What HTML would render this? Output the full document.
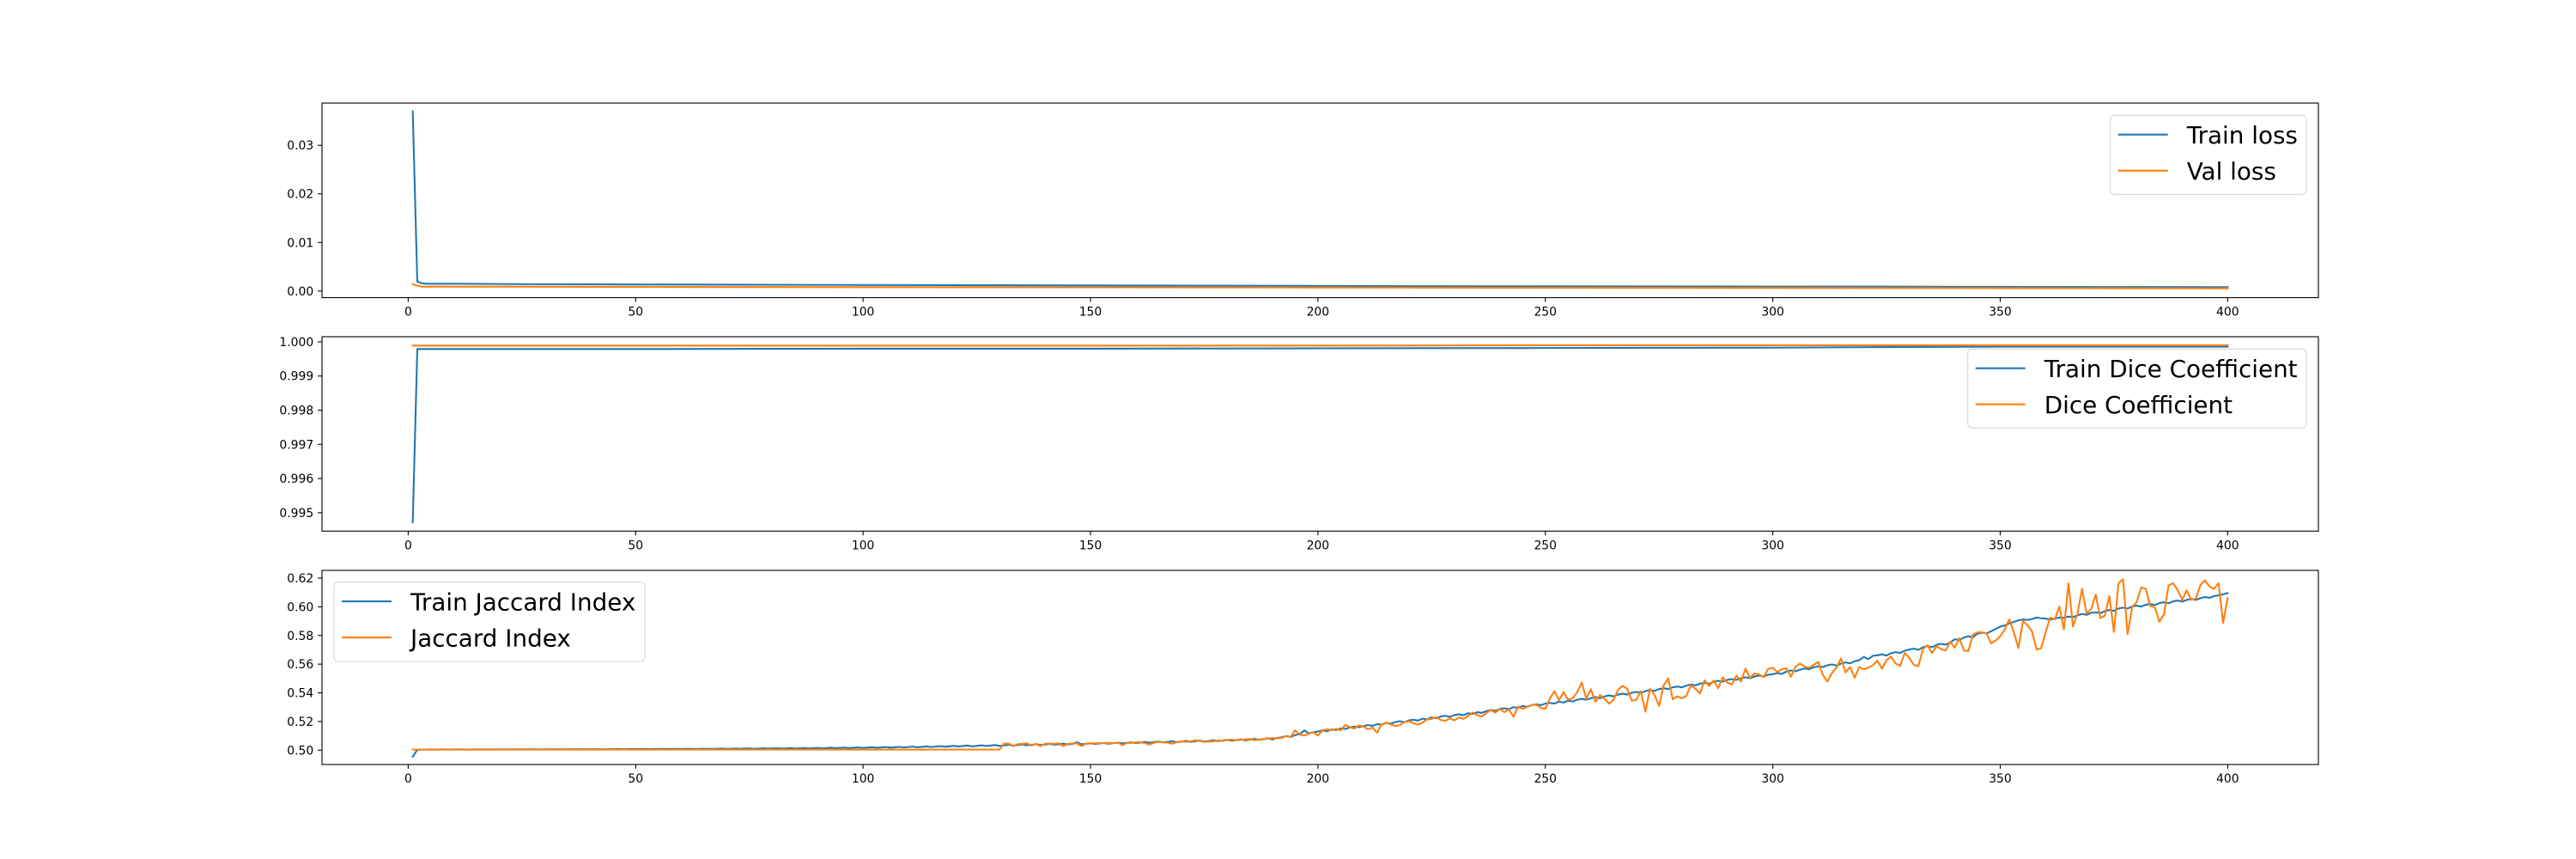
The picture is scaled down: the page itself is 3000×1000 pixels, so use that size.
<!DOCTYPE html>
<html><head><meta charset="utf-8">
<style>
html,body{margin:0;padding:0;background:#fff;}
svg{display:block;}
text{font-family:"DejaVu Sans","Liberation Sans",sans-serif;}
</style></head>
<body>
<svg id="fig" xmlns="http://www.w3.org/2000/svg" width="3000" height="1000" viewBox="0 0 3000 1000">
<rect x="0" y="0" width="3000" height="1000" fill="#fff"/>
</svg>
<script>
// ---------- data ----------
const xTicks = [0,50,100,150,200,250,300,350,400];
const lossEpochs = [1,2,3,4,5,10,20,30,40,50,75,100,125,150,175,200,225,250,275,300,325,350,375,400];
const trainLoss = [0.0370,0.0019,0.0016,0.0015,0.0015,0.0015,0.00145,0.0014,0.00138,0.00135,0.0013,0.00125,0.0012,0.00115,0.0011,0.00105,0.001,0.00098,0.00095,0.00092,0.0009,0.00086,0.00083,0.0008];
const valLoss = [0.0014,0.0011,0.0009,0.0009,0.0009,0.0009,0.0009,0.00088,0.00086,0.00085,0.00082,0.0008,0.00078,0.00076,0.00074,0.00072,0.0007,0.00068,0.00066,0.00064,0.00062,0.0006,0.00058,0.00055];
const lossTicks = [0.00,0.01,0.02,0.03];
const lossTickLabels = ["0.00","0.01","0.02","0.03"];

const diceEpochs = [1,2,3,5,10,50,100,150,200,250,300,330,350,400];
const trainDice = [0.99472,0.99979,0.99979,0.99979,0.99979,0.99979,0.9998,0.9998,0.99981,0.99982,0.99983,0.99985,0.99986,0.99986];
const valDice = [0.99989,0.99989,0.99989,0.99989,0.99989,0.99989,0.99989,0.99989,0.99989,0.9999,0.9999,0.9999,0.9999,0.9999];
const diceTicks = [0.995,0.996,0.997,0.998,0.999,1.000];
const diceTickLabels = ["0.995","0.996","0.997","0.998","0.999","1.000"];

const trainJaccard = [
.4955,.5003,.5004,.5004,.5005,.5004,.5005,.5005,.5004,.5005,
.5005,.5005,.5004,.5005,.5005,.5006,.5005,.5005,.5006,.5005,
.5006,.5005,.5006,.5006,.5005,.5006,.5006,.5006,.5005,.5006,
.5006,.5006,.5007,.5006,.5006,.5007,.5006,.5007,.5007,.5006,
.5007,.5007,.5006,.5007,.5007,.5008,.5007,.5007,.5008,.5007,
.5008,.5008,.5007,.5008,.5008,.5009,.5008,.5008,.5009,.5008,
.5009,.5009,.5008,.5009,.501,.5009,.5009,.501,.5011,.5009,
.501,.5011,.501,.5011,.5012,.501,.5011,.5013,.5011,.5012,
.5013,.5011,.5012,.5014,.5012,.5013,.5015,.5012,.5014,.5016,
.5013,.5015,.5017,.5014,.5016,.5018,.5015,.5017,.5019,.5016,
.5018,.502,.5017,.5019,.5022,.5018,.502,.5023,.5019,.5022,
.5025,.502,.5023,.5026,.5022,.5025,.5028,.5024,.5027,.503,
.5026,.5029,.5032,.5027,.503,.5034,.5029,.5032,.5036,.503,
.5033,.5038,.5032,.5035,.504,.5034,.5037,.5042,.5036,.5039,
.5044,.5038,.5041,.5046,.504,.5043,.5055,.5041,.5045,.5048,
.5043,.5047,.505,.5045,.5049,.5052,.5047,.5051,.5054,.5049,
.5053,.5057,.5052,.5056,.506,.5054,.5058,.5062,.5056,.506,
.5065,.5058,.5062,.5067,.506,.5064,.5069,.5063,.5067,.5072,
.5066,.507,.5075,.5069,.5073,.508,.5072,.5076,.5083,.5075,
.5085,.509,.5098,.5092,.5105,.5112,.5138,.5118,.5125,.513,
.5138,.5132,.5145,.514,.5152,.5148,.5158,.5165,.516,.5168,
.5175,.517,.5182,.5178,.519,.5185,.5196,.5202,.5195,.5208,
.5212,.5206,.522,.5215,.5228,.5222,.5235,.524,.5232,.5245,
.525,.5244,.5258,.5252,.5265,.526,.5272,.528,.5274,.5288,
.5292,.5286,.53,.5295,.5308,.5302,.5315,.532,.5314,.5325,
.533,.5325,.5338,.5332,.5345,.534,.5352,.5358,.5352,.5362,
.537,.5362,.5375,.5382,.5376,.5388,.5394,.5388,.54,.5406,
.54,.5412,.542,.5414,.5426,.5432,.5426,.5438,.5444,.5438,
.545,.5458,.5452,.5464,.547,.5464,.5476,.5484,.5478,.549,
.5496,.549,.5502,.5508,.5502,.5514,.552,.5514,.5526,.553,
.5538,.5532,.5548,.5556,.555,.5562,.557,.5564,.5578,.5585,
.558,.5592,.5598,.559,.5604,.5612,.5606,.562,.5628,.565,
.5635,.5658,.5662,.5668,.566,.5676,.5684,.5678,.5694,.5702,
.5708,.57,.5718,.5726,.5718,.5734,.5742,.5736,.575,.5774,
.5768,.5785,.5795,.5788,.5812,.582,.5814,.583,.5845,.5862,
.587,.5884,.5895,.5905,.5912,.5908,.5915,.5925,.592,.5918,
.591,.5918,.5925,.5922,.5932,.5928,.594,.595,.5944,.5958,
.5962,.5956,.597,.5978,.5972,.5988,.5994,.5988,.6002,.6008,
.6002,.6014,.602,.6012,.6026,.6032,.6025,.6038,.6044,.6036,
.6048,.6055,.6048,.606,.6068,.6062,.6075,.608,.6088,.6096];

const valJaccard = [
.5004,.5004,.5004,.5004,.5004,.5004,.5004,.5004,.5004,.5004,
.5004,.5004,.5004,.5004,.5004,.5004,.5004,.5004,.5004,.5004,
.5004,.5004,.5004,.5004,.5004,.5004,.5004,.5004,.5004,.5004,
.5004,.5004,.5004,.5004,.5004,.5004,.5004,.5004,.5004,.5004,
.5004,.5004,.5004,.5004,.5004,.5004,.5004,.5004,.5004,.5004,
.5004,.5004,.5004,.5004,.5004,.5004,.5004,.5004,.5004,.5004,
.5004,.5004,.5004,.5004,.5004,.5004,.5004,.5004,.5004,.5004,
.5004,.5004,.5004,.5004,.5004,.5004,.5004,.5004,.5004,.5004,
.5004,.5004,.5004,.5004,.5004,.5004,.5004,.5004,.5004,.5004,
.5004,.5004,.5004,.5004,.5004,.5004,.5004,.5004,.5004,.5004,
.5004,.5004,.5004,.5004,.5004,.5004,.5004,.5004,.5004,.5004,
.5004,.5004,.5004,.5004,.5004,.5004,.5004,.5004,.5004,.5004,
.5004,.5004,.5004,.5004,.5004,.5004,.5004,.5004,.5004,.5004,
.5045,.5046,.5028,.5042,.5044,.5048,.5032,.5045,.5028,.5045,
.5046,.5044,.5048,.5028,.5045,.5046,.5048,.5028,.5045,.5047,
.5048,.5049,.505,.505,.5049,.5052,.5035,.505,.5051,.5054,
.5056,.5048,.504,.5052,.5058,.5055,.5052,.5045,.5056,.5062,
.5058,.5062,.5068,.5064,.5058,.506,.5062,.5068,.5064,.507,
.5074,.5068,.5072,.5075,.5078,.507,.5074,.5078,.508,.5085,
.5082,.5086,.5098,.5092,.5138,.5108,.5102,.5115,.5125,.5102,
.5138,.5145,.514,.5148,.5138,.5175,.5162,.515,.5172,.5165,
.5145,.5158,.5122,.518,.5192,.518,.5168,.5175,.5196,.5202,
.5188,.5178,.5192,.5215,.5218,.523,.521,.5205,.5222,.5208,
.5228,.5218,.5238,.5262,.5245,.5235,.5258,.528,.5262,.5288,
.5265,.5285,.5232,.5305,.5288,.5302,.5315,.5318,.5295,.5288,
.5362,.5412,.5348,.5405,.5352,.5362,.5405,.5472,.5358,.5425,
.5338,.5385,.5358,.5325,.5352,.5422,.5448,.5428,.5345,.5352,
.5412,.5268,.5428,.5385,.5308,.5452,.5502,.5355,.5375,.5362,
.5378,.5452,.5428,.5395,.5488,.5448,.5485,.5432,.5508,.5472,
.5458,.552,.5478,.5568,.5505,.5535,.5528,.5508,.5568,.5575,
.5545,.5565,.5572,.5512,.5582,.5605,.5582,.5575,.5595,.5615,
.5526,.5478,.5538,.5576,.564,.5542,.558,.5505,.558,.5564,
.5575,.5592,.5625,.5568,.5628,.5652,.5605,.5588,.5678,.5645,
.5595,.5586,.5705,.5732,.5678,.5725,.5705,.5695,.5755,.5715,
.5782,.5695,.5692,.5806,.5822,.5822,.5815,.5745,.5765,.5795,
.5842,.5912,.5822,.5712,.59,.5872,.5828,.5702,.5712,.5825,
.5925,.5912,.6002,.5842,.6165,.5862,.5955,.6125,.5952,.5985,
.6085,.5922,.5938,.6075,.5825,.6165,.6192,.5808,.5998,.6032,
.6135,.6125,.6005,.5996,.5895,.5948,.6148,.6165,.6118,.6048,
.6115,.6048,.6058,.6152,.6185,.6142,.6125,.6165,.5888,.6062];
const jacTicks = [0.50,0.52,0.54,0.56,0.58,0.60,0.62];
const jacTickLabels = ["0.50","0.52","0.54","0.56","0.58","0.60","0.62"];

// ---------- drawing ----------
const NS = "http://www.w3.org/2000/svg";
const svg = document.getElementById('fig');
const L = 375, R = 2700;
const X0 = -18.95, X1 = 419.95;
function sx(v){ return L + (v - X0) / (X1 - X0) * (R - L); }
function mk(tag, attrs, parent){
  const e = document.createElementNS(NS, tag);
  for (const k in attrs) e.setAttribute(k, attrs[k]);
  (parent || svg).appendChild(e);
  return e;
}
const BLUE = "#1f77b4", ORANGE = "#ff7f0e";

function panel(name, top, bottom, y0, y1, yT, yTL, series, legend){
  const g = mk('g', {});
  
  
  const sy = v => bottom - (v - y0) / (y1 - y0) * (bottom - top);
  series.forEach(s => {
    let d = '';
    s.y.forEach((v, i) => {
      const ep = s.x ? s.x[i] : i + 1;
      d += (i ? 'L' : 'M') + sx(ep).toFixed(2) + ' ' + sy(v).toFixed(2);
    });
    const p = mk('path', {d: d, fill: 'none', stroke: s.color, 'stroke-width': 2.08, 'stroke-linejoin': 'round', 'stroke-linecap': 'square'}, g);
    
    
  });
  const fr = mk('rect', {x: L, y: top, width: R - L, height: bottom - top, fill: 'none', stroke: '#000', 'stroke-width': 1.1}, g);
  
  
  xTicks.forEach(t => {
    const x = sx(t);
    mk('line', {x1: x, x2: x, y1: bottom, y2: bottom + 4.9, stroke: '#000', 'stroke-width': 1.1}, g);
    const tx = mk('text', {x: x, y: bottom + 21, 'font-size': 13.9, 'text-anchor': 'middle', fill: '#000'}, g);
    tx.textContent = t;
    
    
  });
  yT.forEach((t, i) => {
    const y = sy(t);
    mk('line', {x1: L - 4.9, x2: L, y1: y, y2: y, stroke: '#000', 'stroke-width': 1.1}, g);
    const tx = mk('text', {x: L - 9.8, y: y + 5, 'font-size': 13.9, 'text-anchor': 'end', fill: '#000'}, g);
    tx.textContent = yTL[i];
    
    
  });
  const lg = mk('g', {}, g);
  
  
  mk('rect', {x: legend.x, y: legend.y, width: legend.w, height: legend.h, rx: 5, fill: '#fff', 'fill-opacity': 0.8, stroke: '#d6d6d6', 'stroke-width': 1.1}, lg);
  legend.items.forEach((it, i) => {
    const cy = legend.y + 22.4 + 42 * i;
    mk('line', {x1: legend.x + 9, x2: legend.x + 67, y1: cy, y2: cy, stroke: it.color, 'stroke-width': 2.08}, lg);
    const tx = mk('text', {x: legend.x + 89, y: cy + 10.3, 'font-size': 27.8, fill: '#000'}, lg);
    tx.textContent = it.label;
    
    
  });
}

panel('loss', 120, 346.5, -0.00136, 0.0387, lossTicks, lossTickLabels,
  [{name: 'train-loss-line', x: lossEpochs, y: trainLoss, color: BLUE},
   {name: 'val-loss-line', x: lossEpochs, y: valLoss, color: ORANGE}],
  {x: 2457.7, y: 134.3, w: 228.3, h: 92, items: [{label: 'Train loss', color: BLUE}, {label: 'Val loss', color: ORANGE}]});

panel('dice', 392, 618.3, 0.99446, 1.00015, diceTicks, diceTickLabels,
  [{name: 'train-dice-line', x: diceEpochs, y: trainDice, color: BLUE},
   {name: 'val-dice-line', x: diceEpochs, y: valDice, color: ORANGE}],
  {x: 2291.7, y: 406.3, w: 394.3, h: 92, items: [{label: 'Train Dice Coefficient', color: BLUE}, {label: 'Dice Coefficient', color: ORANGE}]});

panel('jaccard', 664, 890, 0.4900, 0.6254, jacTicks, jacTickLabels,
  [{name: 'train-jaccard-line', y: trainJaccard, color: BLUE},
   {name: 'val-jaccard-line', y: valJaccard, color: ORANGE}],
  {x: 389, y: 677.7, w: 362, h: 92.3, items: [{label: 'Train Jaccard Index', color: BLUE}, {label: 'Jaccard Index', color: ORANGE}]});
</script>
</body></html>
